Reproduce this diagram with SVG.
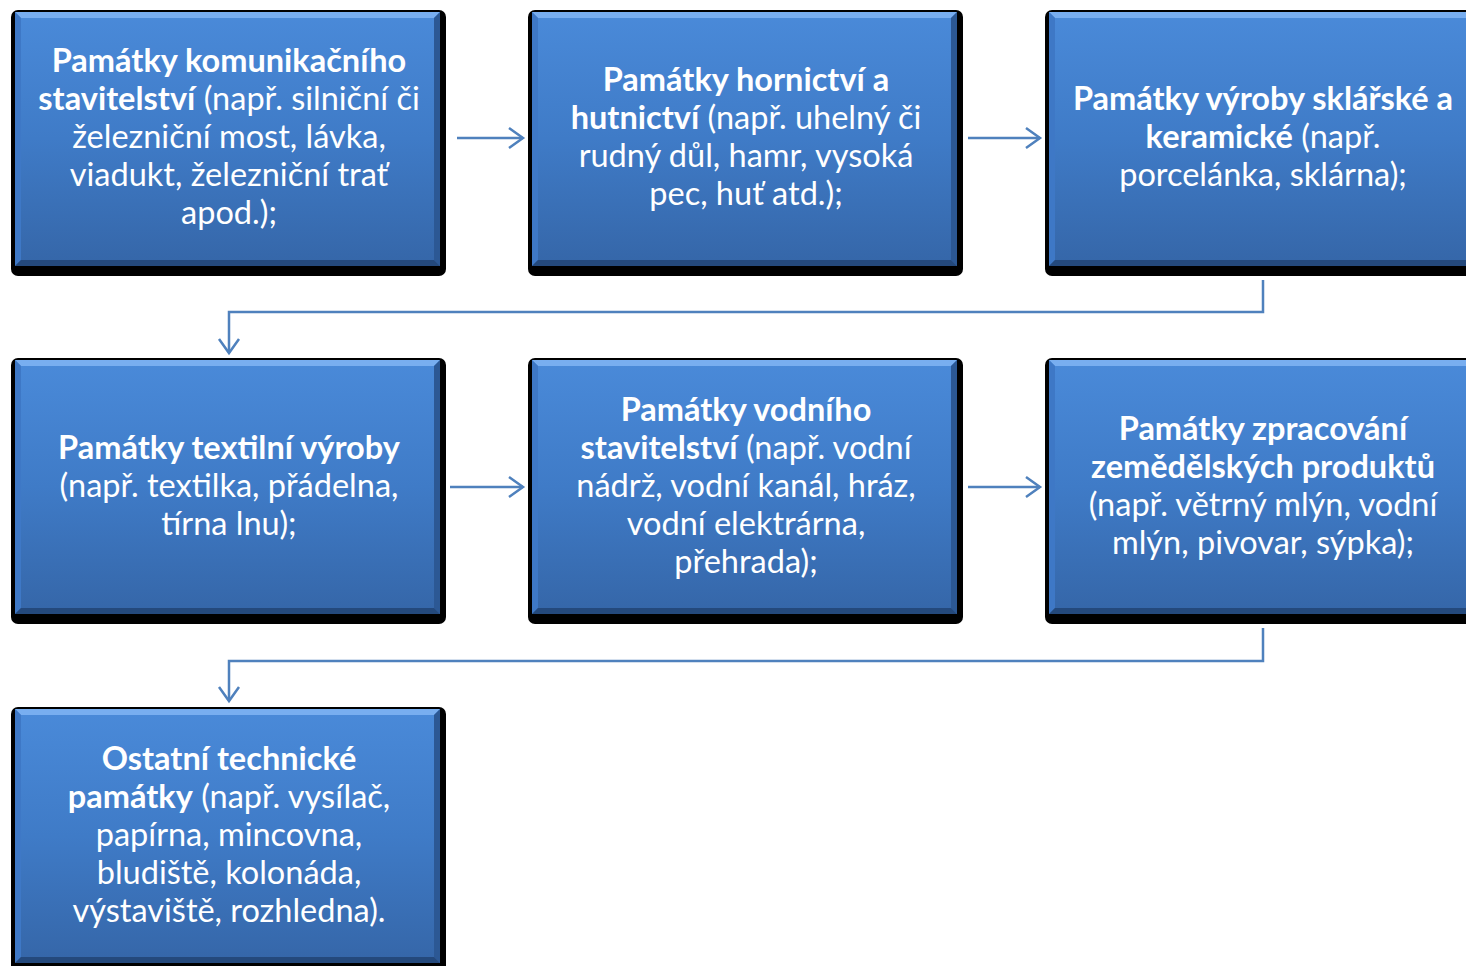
<svg xmlns="http://www.w3.org/2000/svg" width="1466" height="966" viewBox="0 0 1466 966">
<defs>
<linearGradient id="g" x1="0" y1="0" x2="0" y2="1">
<stop offset="0" stop-color="#4a8ad9"/>
<stop offset="0.5" stop-color="#3f7bc7"/>
<stop offset="1" stop-color="#3566a8"/>
</linearGradient>
<marker id="ah" markerUnits="userSpaceOnUse" markerWidth="20" markerHeight="26" viewBox="0 0 20 26" refX="16" refY="13" orient="auto">
<path d="M2,3 L16,13 L2,23" fill="none" stroke="#4f81bd" stroke-width="2.5"/>
</marker>
<g id="box">
<rect x="0" y="0" width="435" height="266" rx="7" fill="#000"/>
<rect x="4" y="2" width="425" height="254" fill="url(#g)"/>
<polygon points="4,2 429,2 423,8 10,8" fill="#78aef0"/>
<polygon points="4,2 10,8 10,250 4,256" fill="#3e78c6"/>
<polygon points="429,2 429,256 423,250 423,8" fill="#2c5894"/>
<polygon points="4,256 429,256 423,250 10,250" fill="#24497c"/>
</g>
</defs>
<style>
.t{font-family:Lato,"Open Sans",sans-serif;font-size:32.5px;fill:#fff;text-anchor:middle}
.b{font-weight:bold}
.c{fill:none;stroke:#4f81bd;stroke-width:2.5;marker-end:url(#ah)}
</style>
<g id="connectors">
<path class="c" d="M457,138 H523"/>
<path class="c" d="M968,138 H1040"/>
<path class="c" d="M1263,280 V312 H229 V353"/>
<path class="c" d="M450,487 H523"/>
<path class="c" d="M968,487 H1040"/>
<path class="c" d="M1263,628 V661 H229 V701"/>
</g>
<g id="n1">
<use href="#box" x="11" y="10"/>
<text class="t" x="229"><tspan x="229" y="72" class="b">Památky komunikačního</tspan><tspan x="229" y="110"><tspan class="b">stavitelství</tspan> (např. silniční či</tspan><tspan x="229" y="148">železniční most, lávka,</tspan><tspan x="229" y="186">viadukt, železniční trať</tspan><tspan x="229" y="224">apod.);</tspan></text>
</g>
<g id="n2">
<use href="#box" x="528" y="10"/>
<text class="t"><tspan x="746" y="91" class="b">Památky hornictví a</tspan><tspan x="746" y="129"><tspan class="b">hutnictví</tspan> (např. uhelný či</tspan><tspan x="746" y="167">rudný důl, hamr, vysoká</tspan><tspan x="746" y="205">pec, huť atd.);</tspan></text>
</g>
<g id="n3">
<use href="#box" x="1045" y="10"/>
<text class="t"><tspan x="1263" y="110" class="b">Památky výroby sklářské a</tspan><tspan x="1263" y="148"><tspan class="b">keramické</tspan> (např.</tspan><tspan x="1263" y="186">porcelánka, sklárna);</tspan></text>
</g>
<g id="n4">
<use href="#box" x="11" y="358"/>
<text class="t"><tspan x="229" y="459" class="b">Památky textilní výroby</tspan><tspan x="229" y="497">(např. textilka, přádelna,</tspan><tspan x="229" y="535">tírna lnu);</tspan></text>
</g>
<g id="n5">
<use href="#box" x="528" y="358"/>
<text class="t"><tspan x="746" y="421" class="b">Památky vodního</tspan><tspan x="746" y="459"><tspan class="b">stavitelství</tspan> (např. vodní</tspan><tspan x="746" y="497">nádrž, vodní kanál, hráz,</tspan><tspan x="746" y="535">vodní elektrárna,</tspan><tspan x="746" y="573">přehrada);</tspan></text>
</g>
<g id="n6">
<use href="#box" x="1045" y="358"/>
<text class="t"><tspan x="1263" y="440" class="b">Památky zpracování</tspan><tspan x="1263" y="478" class="b">zemědělských produktů</tspan><tspan x="1263" y="516">(např. větrný mlýn, vodní</tspan><tspan x="1263" y="554">mlýn, pivovar, sýpka);</tspan></text>
</g>
<g id="n7">
<use href="#box" x="11" y="707"/>
<text class="t"><tspan x="229" y="770" class="b">Ostatní technické</tspan><tspan x="229" y="808"><tspan class="b">památky</tspan> (např. vysílač,</tspan><tspan x="229" y="846">papírna, mincovna,</tspan><tspan x="229" y="884">bludiště, kolonáda,</tspan><tspan x="229" y="922">výstaviště, rozhledna).</tspan></text>
</g>
</svg>
